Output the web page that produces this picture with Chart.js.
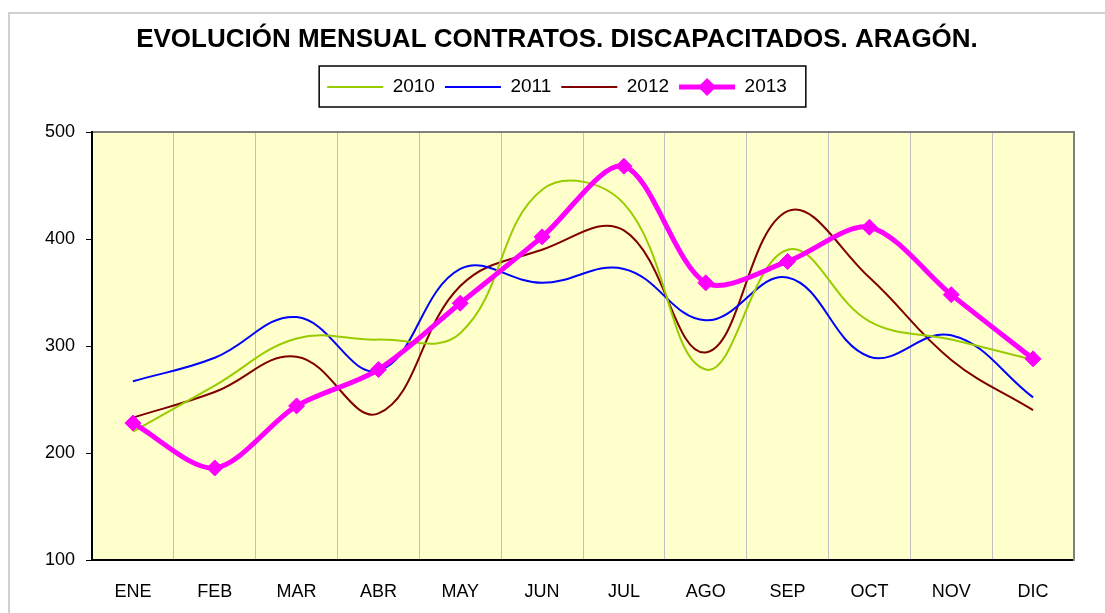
<!DOCTYPE html>
<html>
<head>
<meta charset="utf-8">
<script src="https://cdn.jsdelivr.net/npm/chart.js@4.4.1/dist/chart.umd.min.js"></script>
<style>
  html, body { margin: 0; padding: 0; background: #fff; }
</style>
</head>
<body>
<canvas id="chart" width="1105" height="613"></canvas>
<script>
const months = ['ENE', 'FEB', 'MAR', 'ABR', 'MAY', 'JUN', 'JUL', 'AGO', 'SEP', 'OCT', 'NOV', 'DIC'];
const v2010 = [220, 263, 307, 306, 312, 446, 433, 278, 390, 323, 306, 287];
const v2011 = [267, 289, 327, 277, 372, 359, 372, 324, 364, 290, 310, 252];
const v2012 = [233, 257, 290, 237, 356, 390, 408, 294, 426, 364, 287, 240];
const v2013 = [228, 186, 244, 278, 340, 402, 468, 359, 379, 411, 348, 288];
const yTicks = [100, 200, 300, 400, 500];

Chart.defaults.font.family = "'Liberation Sans', Arial, sans-serif";
Chart.defaults.color = '#000';

const LEGEND_BOX = 56;

// yellow plot background + light outer frame
const plotBg = {
  id: 'plotBg',
  beforeDraw(chart) {
    const { ctx, chartArea: a } = chart;
    ctx.save();
    ctx.fillStyle = '#ffffcc';
    ctx.fillRect(a.left, a.top, a.right - a.left, a.bottom - a.top);
    ctx.strokeStyle = '#d0d0d0';
    ctx.lineWidth = 2;
    ctx.strokeRect(9, 13, chart.width, chart.height);
    ctx.restore();
  }
};

// black frame round the legend, diamond on the 2013 sample
const legendBox = {
  id: 'legendBox',
  afterDraw(chart) {
    const boxes = chart.legend && chart.legend.legendHitBoxes;
    if (!boxes || !boxes.length) return;
    const { ctx } = chart;
    const first = boxes[0], last = boxes[boxes.length - 1];
    const cy = first.top + first.height / 2;
    ctx.save();
    ctx.strokeStyle = '#000';
    ctx.lineWidth = 1.5;
    ctx.strokeRect(first.left - 8, cy - 21, last.left + last.width - first.left + 27, 41);
    const b = boxes[3];
    ctx.fillStyle = '#ff00ff';
    ctx.strokeStyle = '#ff00ff';
    Chart.helpers.drawPoint(ctx, { pointStyle: 'rectRot', radius: 8, borderWidth: 1 }, b.left + LEGEND_BOX / 2, cy);
    ctx.restore();
  }
};

const line = (label, data, color, order) => ({
  label, data, order,
  borderColor: color,
  backgroundColor: color,
  borderWidth: 2,
  pointRadius: 0,
  tension: 0.4,
  fill: false
});

new Chart(document.getElementById('chart'), {
  type: 'line',
  data: {
    labels: months,
    datasets: [
      line('2010', v2010, '#99cc00', 1),
      line('2011', v2011, '#0000ff', 2),
      line('2012', v2012, '#800000', 3),
      {
        label: '2013',
        data: v2013,
        order: 0,
        borderColor: '#ff00ff',
        backgroundColor: '#ff00ff',
        borderWidth: 5,
        pointStyle: 'rectRot',
        pointRadius: 8,
        pointBackgroundColor: '#ff00ff',
        pointBorderColor: '#ff00ff',
        pointBorderWidth: 1,
        tension: 0.3,
        fill: false
      }
    ]
  },
  options: {
    responsive: false,
    animation: false,
    layout: { padding: { left: 9, top: 0, right: 0, bottom: 0 } },
    plugins: {
      title: {
        display: true,
        text: 'EVOLUCIÓN MENSUAL CONTRATOS. DISCAPACITADOS. ARAGÓN.',
        color: '#000',
        font: { size: 26, weight: 'bold' },
        padding: { top: 24, bottom: 12.3 }
      },
      legend: {
        display: true,
        labels: {
          boxWidth: LEGEND_BOX,
          boxHeight: 0,
          padding: 10,
          color: '#000',
          font: { size: 19 },
          sort: (a, b) => a.datasetIndex - b.datasetIndex
        }
      },
      tooltip: { enabled: false }
    },
    scales: {
      x: {
        offset: true,
        grid: { offset: true, color: '#c0c0c0', lineWidth: 1, drawTicks: false },
        border: { color: '#000', width: 2 },
        ticks: { font: { size: 18 }, padding: 21, maxRotation: 0, autoSkip: false },
        afterFit(s) { s.height = 53; }
      },
      xTop: {
        type: 'category',
        position: 'top',
        labels: months,
        display: true,
        grid: { display: false, drawTicks: false },
        ticks: { display: false },
        border: { color: '#808080', width: 2 },
        afterFit(s) { s.height = 25.5; }
      },
      y: {
        min: yTicks[0],
        max: yTicks[yTicks.length - 1],
        afterBuildTicks(s) { s.ticks = yTicks.map(v => ({ value: v })); },
        grid: { drawOnChartArea: false, drawTicks: true, tickLength: 6, color: '#000' },
        border: { color: '#000', width: 2 },
        ticks: { font: { size: 18 }, padding: 11 },
        afterFit(s) { s.width = 83; }
      },
      yRight: {
        type: 'linear',
        position: 'right',
        min: yTicks[0],
        max: yTicks[yTicks.length - 1],
        display: true,
        grid: { display: false, drawTicks: false },
        ticks: { display: false },
        border: { color: '#808080', width: 2 },
        afterFit(s) { s.width = 31; }
      }
    }
  },
  plugins: [plotBg, legendBox]
});
</script>
</body>
</html>
